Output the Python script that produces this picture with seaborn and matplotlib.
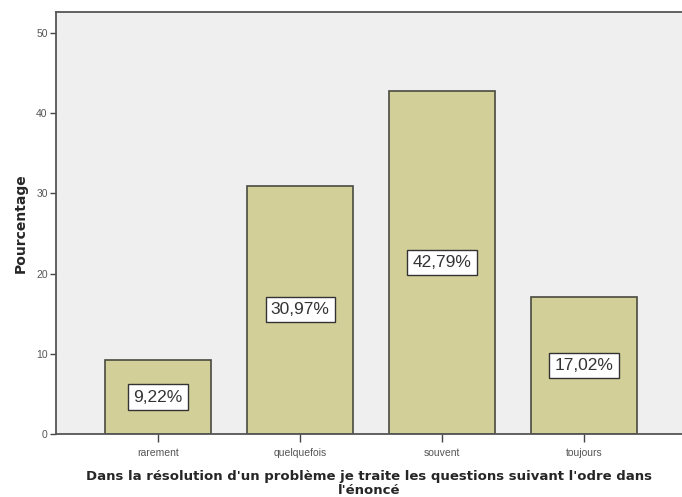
import pandas as pd
import seaborn as sns
import matplotlib.pyplot as plt

categories = ["rarement", "quelquefois", "souvent", "toujours"]
percentages = [9.22, 30.97, 42.79, 17.02]
value_labels = ["9,22%", "30,97%", "42,79%", "17,02%"]
y_ticks = [0, 10, 20, 30, 40, 50]

data = pd.DataFrame({"reponse": categories, "pourcentage": percentages})

sns.set_style("white")
plt.rcParams['font.family'] = ['Liberation Sans', 'DejaVu Sans']

fig = plt.figure(figsize=(6.82, 4.97), dpi=100)
ax = fig.add_axes([56/682, 1 - 434/497, 626/682, 422/497])
ax.set_facecolor("#efefef")

sns.barplot(data=data, x="reponse", y="pourcentage", ax=ax, color="#d3cf98",
            saturation=1, width=0.75, edgecolor="#4a4a40", linewidth=1.2)

# etiquettes de valeur au milieu des barres
for i, (v, lab) in enumerate(zip(percentages, value_labels)):
    ax.text(i, v / 2, lab, ha="center", va="center", fontsize=12.5, color="#333333",
            bbox=dict(boxstyle="square,pad=0.3", facecolor="white", edgecolor="#333333", linewidth=1))

ax.set_xlim(-0.72, 3.69)
ax.set_ylim(0, 52.6)
ax.set_yticks(y_ticks)
ax.set_yticklabels([str(t) for t in y_ticks], fontsize=7.5, color="#555555")
ax.set_xticks(range(len(categories)))
ax.set_xticklabels(categories, fontsize=7.5, color="#555555")
ax.tick_params(axis="y", direction="out", length=4, width=1, color="#444444", pad=2, left=True)
ax.tick_params(axis="x", direction="out", length=6, width=1, color="#444444", pad=4, bottom=True)

for side in ["left", "bottom", "top"]:
    ax.spines[side].set_color("#555555")
    ax.spines[side].set_linewidth(1.3)
ax.spines["right"].set_visible(False)

ax.set_ylabel("Pourcentage", fontsize=10, fontweight="bold", family="DejaVu Sans", labelpad=6)
ax.set_xlabel("Dans la résolution d'un problème je traite les questions suivant l'odre dans\nl'énoncé",
              fontsize=9.5, fontweight="bold", family="DejaVu Sans", labelpad=9, linespacing=1.05)

fig.savefig("out.png", dpi=100)
